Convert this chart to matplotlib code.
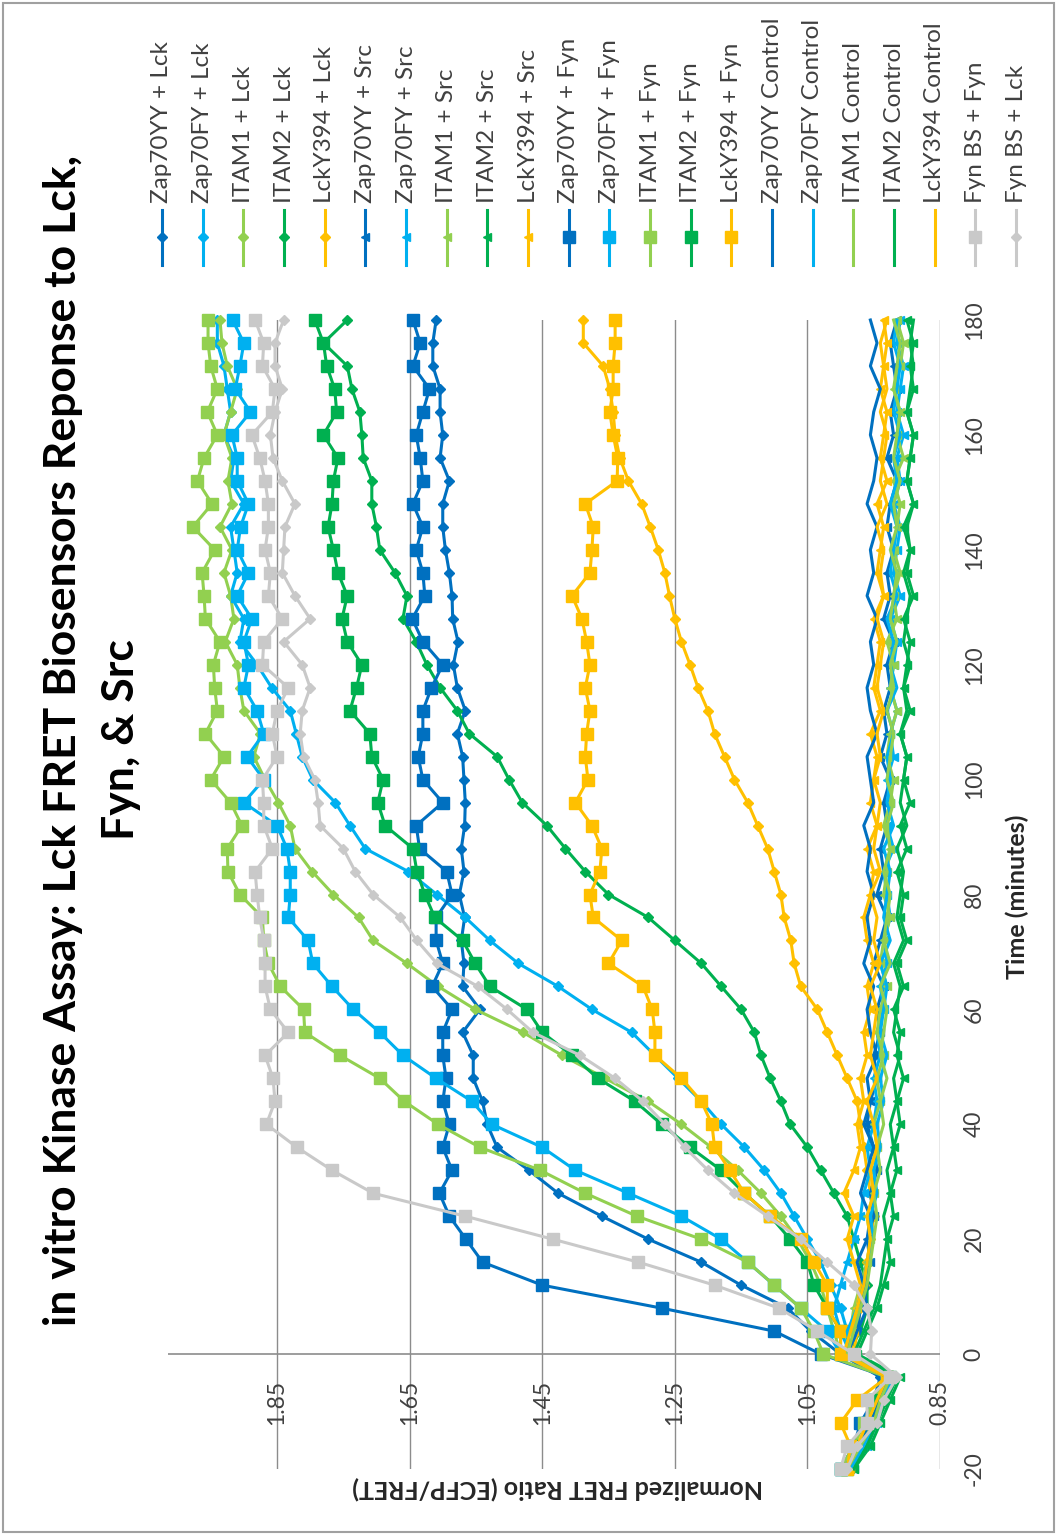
import matplotlib.pyplot as plt
from matplotlib.lines import Line2D
from matplotlib.patches import Rectangle

plt.rcParams['font.family'] = ['Lato', 'DejaVu Sans']

# time points (minutes)
time_min = [-20, -16, -12, -8, -4, 0, 4, 8, 12, 16,
            20, 24, 28, 32, 36, 40, 44, 48, 52, 56,
            60, 64, 68, 72, 76, 80, 84, 88, 92, 96,
            100, 104, 108, 112, 116, 120, 124, 128, 132, 136,
            140, 144, 148, 152, 156, 160, 164, 168, 172, 176,
            180]

# --- Lck ---
zap70yy_lck = [0.99, 0.97, 0.96, 0.95, 0.94, 1.00, 1.045, 1.08, 1.15, 1.21,
               1.29, 1.36, 1.426, 1.47, 1.518, 1.533, 1.54, 1.554, 1.554, 1.57,
               1.544, 1.57, 1.568, 1.572, 1.567, 1.575, 1.568, 1.572, 1.567, 1.566,
               1.568, 1.57, 1.578, 1.566, 1.578, 1.584, 1.577, 1.585, 1.586, 1.59,
               1.596, 1.60, 1.60, 1.59, 1.604, 1.60, 1.604, 1.604, 1.615, 1.615,
               1.61]
zap70fy_lck = [0.99, 0.97, 0.955, 0.94, 0.925, 0.99, 0.99, 1.00, 1.015, 1.03,
               1.05, 1.07, 1.09, 1.115, 1.145, 1.18, 1.21, 1.245, 1.28, 1.315,
               1.375, 1.426, 1.486, 1.529, 1.566, 1.609, 1.652, 1.717, 1.74, 1.762,
               1.796, 1.812, 1.821, 1.83, 1.858, 1.88, 1.906, 1.90, 1.92, 1.91,
               1.915, 1.92, 1.90, 1.92, 1.915, 1.93, 1.92, 1.925, 1.93, 1.94,
               1.94]
itam1_lck = [1.00, 0.98, 0.965, 0.95, 0.93, 1.00, 1.01, 1.02, 1.03, 1.045,
             1.065, 1.09, 1.12, 1.155, 1.195, 1.24, 1.29, 1.355, 1.42, 1.479,
             1.551, 1.607, 1.654, 1.705, 1.727, 1.765, 1.797, 1.823, 1.83, 1.848,
             1.868, 1.885, 1.875, 1.90, 1.906, 1.91, 1.928, 1.915, 1.92, 1.93,
             1.918, 1.936, 1.918, 1.924, 1.918, 1.93, 1.92, 1.91, 1.925, 1.933,
             1.936]
itam2_lck = [0.99, 0.96, 0.95, 0.93, 0.92, 0.99, 0.97, 0.96, 0.96, 0.97,
             0.98, 0.99, 1.01, 1.03, 1.05, 1.076, 1.09, 1.106, 1.12, 1.13,
             1.15, 1.18, 1.21, 1.25, 1.29, 1.35, 1.385, 1.415, 1.443, 1.48,
             1.50, 1.518, 1.56, 1.578, 1.604, 1.624, 1.64, 1.66, 1.654, 1.672,
             1.695, 1.70, 1.707, 1.707, 1.72, 1.722, 1.725, 1.737, 1.744, 1.78,
             1.744]
lcky394_lck = [0.99, 0.97, 0.95, 0.94, 0.925, 0.98, 0.975, 0.97, 0.965, 0.96,
               0.955, 0.95, 0.955, 0.96, 0.965, 0.97, 0.975, 0.99, 1.005, 1.02,
               1.035, 1.06, 1.07, 1.075, 1.085, 1.09, 1.10, 1.11, 1.125, 1.14,
               1.16, 1.175, 1.19, 1.20, 1.215, 1.227, 1.24, 1.25, 1.258, 1.265,
               1.275, 1.287, 1.30, 1.32, 1.333, 1.34, 1.343, 1.348, 1.358, 1.388,
               1.388]

# --- Src ---
zap70yy_src = [0.985, 0.965, 0.95, 0.94, 0.925, 0.99, 0.975, 0.97, 0.965, 0.955,
               0.96, 0.95, 0.955, 0.945, 0.95, 0.96, 0.955, 0.945, 0.95, 0.94,
               0.945, 0.935, 0.95, 0.94, 0.93, 0.945, 0.935, 0.94, 0.93, 0.935,
               0.925, 0.94, 0.93, 0.935, 0.925, 0.93, 0.92, 0.935, 0.925, 0.93,
               0.92, 0.93, 0.925, 0.915, 0.93, 0.92, 0.925, 0.915, 0.92, 0.925,
               0.915]
zap70fy_src = [0.98, 0.96, 0.945, 0.935, 0.92, 0.985, 1.0, 1.01, 1.0, 0.99,
               0.98, 0.97, 0.965, 0.955, 0.96, 0.95, 0.945, 0.95, 0.94, 0.945,
               0.935, 0.94, 0.93, 0.935, 0.925, 0.93, 0.935, 0.92, 0.93, 0.925,
               0.93, 0.92, 0.925, 0.915, 0.925, 0.92, 0.915, 0.925, 0.91, 0.92,
               0.915, 0.91, 0.92, 0.91, 0.915, 0.905, 0.915, 0.91, 0.905, 0.915,
               0.91]
itam1_src = [0.99, 0.97, 0.955, 0.94, 0.925, 0.995, 0.985, 0.98, 0.97, 0.96,
             0.955, 0.96, 0.95, 0.955, 0.945, 0.95, 0.94, 0.945, 0.935, 0.945,
             0.94, 0.93, 0.94, 0.935, 0.925, 0.935, 0.93, 0.925, 0.935, 0.925,
             0.92, 0.93, 0.925, 0.915, 0.925, 0.92, 0.93, 0.915, 0.92, 0.91,
             0.92, 0.915, 0.91, 0.92, 0.905, 0.915, 0.91, 0.92, 0.91, 0.905,
             0.915]
itam2_src = [0.98, 0.955, 0.94, 0.925, 0.91, 0.975, 0.96, 0.945, 0.935, 0.925,
             0.93, 0.92, 0.925, 0.915, 0.92, 0.91, 0.915, 0.905, 0.915, 0.91,
             0.92, 0.905, 0.915, 0.90, 0.91, 0.905, 0.915, 0.90, 0.91, 0.895,
             0.905, 0.90, 0.91, 0.895, 0.905, 0.90, 0.895, 0.905, 0.89, 0.90,
             0.895, 0.905, 0.89, 0.90, 0.895, 0.89, 0.90, 0.89, 0.895, 0.89,
             0.90]
lcky394_src = [0.985, 0.97, 0.955, 0.94, 0.925, 0.985, 0.98, 0.975, 0.97, 0.98,
               0.99, 0.98, 0.995, 0.98, 0.97, 0.975, 0.965, 0.97, 0.96, 0.965,
               0.955, 0.96, 0.95, 0.96, 0.965, 0.955, 0.95, 0.96, 0.945, 0.955,
               0.95, 0.945, 0.955, 0.94, 0.95, 0.945, 0.94, 0.95, 0.935, 0.945,
               0.94, 0.935, 0.945, 0.93, 0.94, 0.935, 0.93, 0.94, 0.935, 0.93,
               0.935]

# --- Fyn ---
zap70yy_fyn = [1.00, 0.98, 0.97, 0.95, 0.93, 1.03, 1.10, 1.27, 1.45, 1.54,
               1.565, 1.59, 1.605, 1.586, 1.60, 1.59, 1.60, 1.595, 1.60, 1.60,
               1.586, 1.616, 1.60, 1.61, 1.61, 1.586, 1.594, 1.635, 1.64, 1.60,
               1.63, 1.637, 1.63, 1.63, 1.617, 1.60, 1.63, 1.646, 1.627, 1.63,
               1.64, 1.63, 1.645, 1.63, 1.634, 1.64, 1.63, 1.62, 1.645, 1.634,
               1.645]
zap70fy_fyn = [1.00, 0.97, 0.96, 0.95, 0.93, 1.00, 1.02, 1.06, 1.10, 1.14,
               1.18, 1.24, 1.32, 1.40, 1.45, 1.526, 1.556, 1.61, 1.66, 1.695,
               1.735, 1.767, 1.796, 1.803, 1.833, 1.83, 1.83, 1.835, 1.85, 1.90,
               1.87, 1.895, 1.87, 1.88, 1.90, 1.893, 1.90, 1.888, 1.91, 1.893,
               1.91, 1.905, 1.893, 1.91, 1.91, 1.918, 1.89, 1.913, 1.906, 1.90,
               1.917]
itam1_fyn = [1.00, 0.98, 0.965, 0.95, 0.93, 1.026, 1.04, 1.06, 1.10, 1.14,
             1.21, 1.307, 1.385, 1.453, 1.544, 1.607, 1.658, 1.695, 1.755, 1.808,
             1.81, 1.845, 1.863, 1.87, 1.872, 1.906, 1.924, 1.925, 1.903, 1.92,
             1.95, 1.93, 1.958, 1.94, 1.944, 1.946, 1.936, 1.958, 1.96, 1.963,
             1.944, 1.977, 1.948, 1.97, 1.96, 1.94, 1.955, 1.94, 1.95, 1.954,
             1.954]
itam2_fyn = [0.99, 0.97, 0.955, 0.94, 0.925, 1.00, 1.00, 1.02, 1.04, 1.05,
             1.076, 1.106, 1.145, 1.18, 1.227, 1.27, 1.31, 1.366, 1.405, 1.45,
             1.473, 1.529, 1.551, 1.57, 1.612, 1.627, 1.639, 1.645, 1.687, 1.698,
             1.69, 1.707, 1.71, 1.74, 1.73, 1.722, 1.744, 1.752, 1.744, 1.758,
             1.765, 1.773, 1.767, 1.765, 1.758, 1.78, 1.76, 1.763, 1.775, 1.78,
             1.793]
lcky394_fyn = [0.99, 0.985, 1.00, 0.975, 0.93, 1.00, 1.00, 1.02, 1.02, 1.04,
               1.06, 1.106, 1.145, 1.167, 1.19, 1.194, 1.21, 1.24, 1.28, 1.28,
               1.284, 1.298, 1.35, 1.33, 1.373, 1.378, 1.363, 1.36, 1.375, 1.40,
               1.381, 1.385, 1.383, 1.378, 1.385, 1.378, 1.383, 1.39, 1.405, 1.378,
               1.375, 1.373, 1.385, 1.337, 1.336, 1.343, 1.348, 1.343, 1.343, 1.34,
               1.34]

# --- controls (no kinase) ---
zap70yy_ctrl = [0.99, 0.97, 0.955, 0.94, 0.93, 0.99, 0.975, 0.96, 0.965, 0.975,
                0.96, 0.955, 0.97, 0.96, 0.95, 0.965, 0.955, 0.96, 0.945, 0.955,
                0.96, 0.95, 0.965, 0.955, 0.96, 0.95, 0.96, 0.955, 0.965, 0.95,
                0.955, 0.96, 0.945, 0.955, 0.96, 0.95, 0.955, 0.945, 0.96, 0.95,
                0.955, 0.945, 0.96, 0.95, 0.945, 0.955, 0.95, 0.94, 0.955, 0.945,
                0.955]
zap70fy_ctrl = [0.985, 0.965, 0.95, 0.935, 0.92, 0.985, 0.99, 0.975, 0.965, 0.96,
                0.95, 0.955, 0.945, 0.95, 0.94, 0.945, 0.935, 0.94, 0.93, 0.94,
                0.935, 0.93, 0.94, 0.925, 0.935, 0.93, 0.925, 0.935, 0.92, 0.93,
                0.925, 0.93, 0.92, 0.93, 0.915, 0.925, 0.92, 0.93, 0.915, 0.925,
                0.92, 0.915, 0.925, 0.915, 0.92, 0.91, 0.92, 0.915, 0.91, 0.92,
                0.915]
itam1_ctrl = [0.99, 0.97, 0.95, 0.94, 0.925, 0.99, 0.98, 0.97, 0.96, 0.955,
              0.95, 0.945, 0.95, 0.94, 0.945, 0.935, 0.94, 0.93, 0.94, 0.935,
              0.93, 0.94, 0.925, 0.935, 0.93, 0.925, 0.935, 0.925, 0.93, 0.92,
              0.93, 0.925, 0.92, 0.93, 0.92, 0.925, 0.915, 0.925, 0.92, 0.915,
              0.925, 0.915, 0.92, 0.91, 0.92, 0.915, 0.91, 0.92, 0.915, 0.91,
              0.92]
itam2_ctrl = [0.98, 0.96, 0.945, 0.93, 0.915, 0.98, 0.965, 0.95, 0.94, 0.935,
              0.93, 0.935, 0.925, 0.93, 0.92, 0.925, 0.915, 0.92, 0.91, 0.92,
              0.915, 0.91, 0.92, 0.905, 0.915, 0.91, 0.905, 0.915, 0.90, 0.91,
              0.905, 0.90, 0.91, 0.90, 0.905, 0.895, 0.905, 0.90, 0.895, 0.905,
              0.895, 0.90, 0.89, 0.90, 0.895, 0.89, 0.90, 0.895, 0.89, 0.895,
              0.89]
lcky394_ctrl = [0.99, 0.975, 0.96, 0.945, 0.93, 0.995, 0.985, 0.975, 0.965, 0.96,
                0.955, 0.96, 0.95, 0.955, 0.945, 0.95, 0.96, 0.945, 0.955, 0.95,
                0.945, 0.955, 0.94, 0.95, 0.945, 0.955, 0.94, 0.95, 0.945, 0.94,
                0.95, 0.94, 0.945, 0.935, 0.945, 0.94, 0.935, 0.945, 0.935, 0.94,
                0.935, 0.945, 0.93, 0.94, 0.935, 0.93, 0.94, 0.93, 0.935, 0.94,
                0.93]

# --- Fyn biosensor ---
fynbs_fyn = [1.00, 0.99, 0.96, 0.96, 0.925, 0.98, 1.035, 1.093, 1.19, 1.305,
             1.434, 1.566, 1.705, 1.767, 1.82, 1.866, 1.853, 1.856, 1.868, 1.833,
             1.86, 1.868, 1.868, 1.87, 1.876, 1.88, 1.883, 1.857, 1.87, 1.87,
             1.872, 1.85, 1.857, 1.85, 1.833, 1.872, 1.87, 1.842, 1.863, 1.86,
             1.868, 1.863, 1.863, 1.868, 1.876, 1.888, 1.857, 1.853, 1.872, 1.87,
             1.883]
fynbs_lck = [0.99, 0.975, 0.945, 0.935, 0.915, 0.955, 0.953, 0.96, 0.98, 1.02,
             1.06, 1.11, 1.16, 1.20, 1.235, 1.265, 1.298, 1.34, 1.393, 1.464,
             1.503, 1.547, 1.609, 1.639, 1.664, 1.705, 1.732, 1.75, 1.785, 1.788,
             1.793, 1.81, 1.815, 1.812, 1.80, 1.812, 1.84, 1.80, 1.823, 1.842,
             1.84, 1.838, 1.823, 1.842, 1.856, 1.86, 1.853, 1.842, 1.853, 1.853,
             1.84]

ratio_ticks = [0.85, 1.05, 1.25, 1.45, 1.65, 1.85]
ratio_labels = ['0.85', '1.05', '1.25', '1.45', '1.65', '1.85']
time_ticks = [-20, 0, 20, 40, 60, 80, 100, 120, 140, 160, 180]
time_labels = ['-20', '0', '20', '40', '60', '80', '100', '120', '140', '160', '180']

DARK_BLUE = '#0070C0'
LIGHT_BLUE = '#00B0F0'
LIGHT_GREEN = '#92D050'
GREEN = '#00B050'
GOLD = '#FFC000'
GRAY = '#C9C9C9'

# label, values, colour, marker (the chart is turned 90 degrees, so triangles point left)
series = [
    ('Zap70YY + Lck', zap70yy_lck, DARK_BLUE, 'D'),
    ('Zap70FY + Lck', zap70fy_lck, LIGHT_BLUE, 'D'),
    ('ITAM1 + Lck', itam1_lck, LIGHT_GREEN, 'D'),
    ('ITAM2 + Lck', itam2_lck, GREEN, 'D'),
    ('LckY394 + Lck', lcky394_lck, GOLD, 'D'),
    ('Zap70YY + Src', zap70yy_src, DARK_BLUE, '<'),
    ('Zap70FY + Src', zap70fy_src, LIGHT_BLUE, '<'),
    ('ITAM1 + Src', itam1_src, LIGHT_GREEN, '<'),
    ('ITAM2 + Src', itam2_src, GREEN, '<'),
    ('LckY394 + Src', lcky394_src, GOLD, '<'),
    ('Zap70YY + Fyn', zap70yy_fyn, DARK_BLUE, 's'),
    ('Zap70FY + Fyn', zap70fy_fyn, LIGHT_BLUE, 's'),
    ('ITAM1 + Fyn', itam1_fyn, LIGHT_GREEN, 's'),
    ('ITAM2 + Fyn', itam2_fyn, GREEN, 's'),
    ('LckY394 + Fyn', lcky394_fyn, GOLD, 's'),
    ('Zap70YY Control', zap70yy_ctrl, DARK_BLUE, None),
    ('Zap70FY Control', zap70fy_ctrl, LIGHT_BLUE, None),
    ('ITAM1 Control', itam1_ctrl, LIGHT_GREEN, None),
    ('ITAM2 Control', itam2_ctrl, GREEN, None),
    ('LckY394 Control', lcky394_ctrl, GOLD, None),
    ('Fyn BS + Fyn', fynbs_fyn, GRAY, 's'),
    ('Fyn BS + Lck', fynbs_lck, GRAY, 'D'),
]

marker_size = {'D': 4.6, '<': 6.0, 's': 9.0, None: 0}

W, H = 1057, 1535
fig = plt.figure(figsize=(W / 100, H / 100), dpi=100)

# plot area in pixels: ratio runs right->left, time runs bottom->top
left, right, top, bottom = 168, 940, 320, 1469
ax = fig.add_axes([left / W, 1 - bottom / H, (right - left) / W, (bottom - top) / H])
ax.set_xlim(0.85 + (right - left) / 663.0, 0.85)
ax.set_ylim(-20, 180)
for s in ax.spines.values():
    s.set_visible(False)

ax.set_xticks(ratio_ticks)
ax.set_xticklabels(ratio_labels, rotation=90)
ax.grid(axis='x', color='#8C8C8C', lw=1.0)
ax.tick_params(axis='x', length=0, pad=-64, labelsize=16.5, labelcolor='#404040')
ax.axhline(0, color='#8C8C8C', lw=1.2, zorder=1.5)

ax.yaxis.tick_right()
ax.set_yticks(time_ticks)
ax.set_yticklabels(time_labels, rotation=90)
for lbl in ax.get_yticklabels():
    lbl.set_va('center')
ax.tick_params(axis='y', length=0, pad=17, labelsize=16.5, labelcolor='#404040')

for name, vals, color, mk in series:
    ax.plot(vals, time_min, color=color, lw=2.2, marker=mk, ms=marker_size[mk],
            mfc=color, mec=color, clip_on=False, zorder=3)

ax.set_ylabel('Time (minutes)', fontsize=18, fontweight='bold', color='#262626')
ax.yaxis.set_label_position('right')
ax.yaxis.set_label_coords((1017 - left) / (right - left), (bottom - 897) / (bottom - top))
ax.yaxis.label.set_va('center')
ax.yaxis.label.set_rotation_mode('default')

ax.set_xlabel('Normalized FRET Ratio (ECFP/FRET)', fontsize=18, fontweight='bold',
              rotation=180, color='#262626')
ax.xaxis.set_label_coords((558 - left) / (right - left), -(1488 - bottom) / (bottom - top))
ax.xaxis.label.set_va('center')

fig.text(92 / W, 1 - 740 / H,
         'in vitro Kinase Assay: Lck FRET Biosensors Reponse to Lck,\nFyn, & Src',
         rotation=90, ha='center', va='center', multialignment='center',
         fontsize=32, fontweight='bold', linespacing=1.55)

# legend, drawn by hand because it is turned with the chart
for i, (name, vals, color, mk) in enumerate(series):
    cx = (162 + 40.67 * i) / W
    fig.add_artist(Line2D([cx, cx], [1 - 210 / H, 1 - 265 / H], color=color, lw=2.2,
                          transform=fig.transFigure))
    if mk:
        fig.add_artist(Line2D([cx], [1 - 237 / H], color=color, marker=mk,
                              ms=marker_size[mk], mfc=color, mec=color,
                              transform=fig.transFigure))
    fig.text(cx, 1 - 203 / H, name, rotation=90, ha='center', va='bottom',
             fontsize=17.5, color='#404040')

fig.add_artist(Rectangle((3 / W, 3 / H), (W - 6) / W, (H - 6) / H, fill=False,
                         ec='#A0A0A0', lw=1.5, transform=fig.transFigure))

fig.savefig('out.png', dpi=100)
